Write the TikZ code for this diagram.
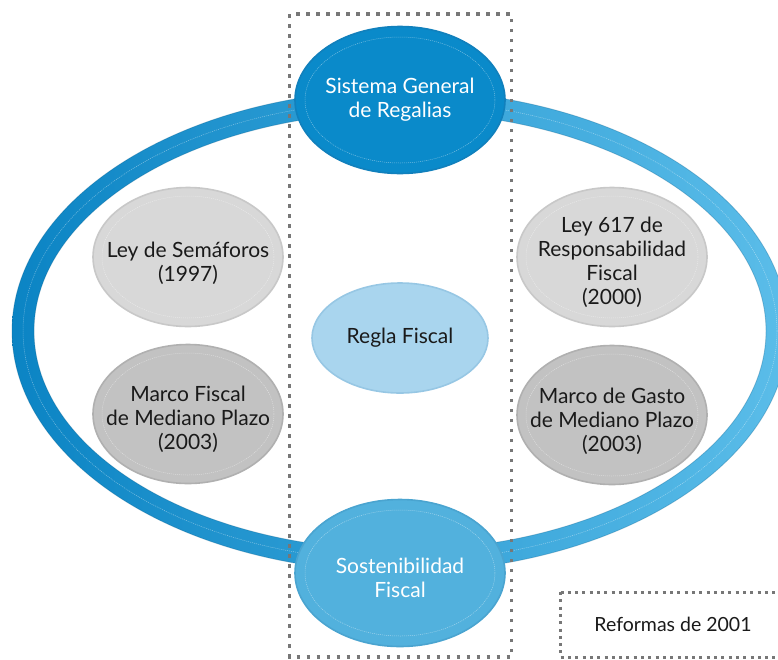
\documentclass[tikz,border=0pt]{standalone}
\usepackage{fontspec}
\setmainfont{Lato}
\usetikzlibrary{shapes.geometric}

\definecolor{ringdark}{HTML}{0B84C4}
\definecolor{ringlight}{HTML}{5BBDE9}
\definecolor{topblue}{HTML}{0A8ACA}
\definecolor{topedge}{HTML}{1180BC}
\definecolor{botblue}{HTML}{52B1DD}
\definecolor{botedge}{HTML}{4AA4D0}
\definecolor{palefill}{HTML}{A9D5EE}
\definecolor{paleedge}{HTML}{97C7E4}
\definecolor{grayA}{HTML}{D8D8D8}
\definecolor{grayAedge}{HTML}{C8C8C8}
\definecolor{grayB}{HTML}{C2C2C2}
\definecolor{grayBedge}{HTML}{B0B0B0}
\definecolor{dotgray}{HTML}{777777}
\definecolor{inktext}{HTML}{1A1A1A}

\tikzset{
  bubble/.style={ellipse, inner sep=0pt, line width=1.6pt},
  bluebig/.style={bubble, minimum width=210pt, minimum height=147pt},
  grayel/.style={bubble, minimum width=190pt, minimum height=139pt},
  caption/.style={align=center, inner sep=0pt, font=\fontsize{21}{24}\selectfont},
  dotframe/.style={draw=dotgray, line width=3.5pt, dash pattern=on 3.5pt off 6.5pt},
  smalldotframe/.style={draw=dotgray, line width=3pt, dash pattern=on 3pt off 4.3pt},
  innerrim/.style={draw=white, draw opacity=0.45, line width=0.5pt, dash pattern=on 1pt off 1pt},
}

\begin{document}
\begin{tikzpicture}[x=1pt,y=-1pt]
\useasboundingbox (0,0) rectangle (778,659);

% outer ring, shaded from left to right
\shade[left color=ringdark, right color=ringlight, even odd rule]
  (400,331) ellipse (388pt and 241pt) (400,331) ellipse (366pt and 219pt);
\draw[ringdark!70!black, draw opacity=0.3, line width=0.8pt] (400,331) ellipse (388pt and 241pt);
\draw[ringdark!70!black, draw opacity=0.3, line width=0.8pt] (400,331) ellipse (366pt and 219pt);
\draw[innerrim] (400,331) ellipse (377pt and 230pt);

% dotted frames
\draw[dotframe] (289.5,14) rectangle (511.5,657);
\draw[smalldotframe] (560.5,592) -- (560.5,657.5) -- (790,657.5);
\draw[smalldotframe] (560.5,592) -- (790,592);
\node[caption, font=\fontsize{19.5}{22}\selectfont, text=inktext] (reformas) at (673,624) {Reformas de 2001};

% central column
\node[bluebig, fill=topblue, draw=topedge] (sgr) at (400,100) {};
\draw[innerrim] (sgr.center) ellipse (95pt and 63pt);
\node[caption, text=white] (sgrtext) at (sgr.center) {Sistema General\\de Regalias};

\node[bluebig, fill=botblue, draw=botedge] (sost) at (400,573) {};
\draw[innerrim] (sost.center) ellipse (95pt and 63pt);
\node[caption, text=white] (sosttext) at ([yshift=-5pt]sost.center) {Sostenibilidad\\Fiscal};

\node[bubble, minimum width=176pt, minimum height=110pt, fill=palefill, draw=paleedge] (regla) at (400,338) {};
\node[caption, text=inktext] (reglatext) at (regla.center) {Regla Fiscal};

% side laws
\node[grayel, fill=grayA, draw=grayAedge] (semaforos) at (188,257) {};
\draw[innerrim] (semaforos.center) ellipse (86pt and 61pt);
\node[caption, text=inktext] (semaforostext) at ([yshift=-6pt]semaforos.center) {Ley de Semáforos\\(1997)};

\node[grayel, fill=grayB, draw=grayBedge] (mfmp) at (188,414) {};
\draw[innerrim] (mfmp.center) ellipse (86pt and 61pt);
\node[caption, text=inktext] (mfmptext) at ([yshift=-5pt]mfmp.center) {Marco Fiscal\\de Mediano Plazo\\(2003)};

\node[grayel, fill=grayA, draw=grayAedge] (ley617) at (612,257) {};
\draw[innerrim] (ley617.center) ellipse (86pt and 61pt);
\node[caption, text=inktext] (ley617text) at ([yshift=-5pt]ley617.center) {Ley 617 de\\Responsabilidad\\Fiscal\\(2000)};

\node[grayel, fill=grayB, draw=grayBedge] (mgmp) at (612,415) {};
\draw[innerrim] (mgmp.center) ellipse (86pt and 61pt);
\node[caption, text=inktext] (mgmptext) at ([yshift=-6pt]mgmp.center) {Marco de Gasto\\de Mediano Plazo\\(2003)};
\end{tikzpicture}
\end{document}
